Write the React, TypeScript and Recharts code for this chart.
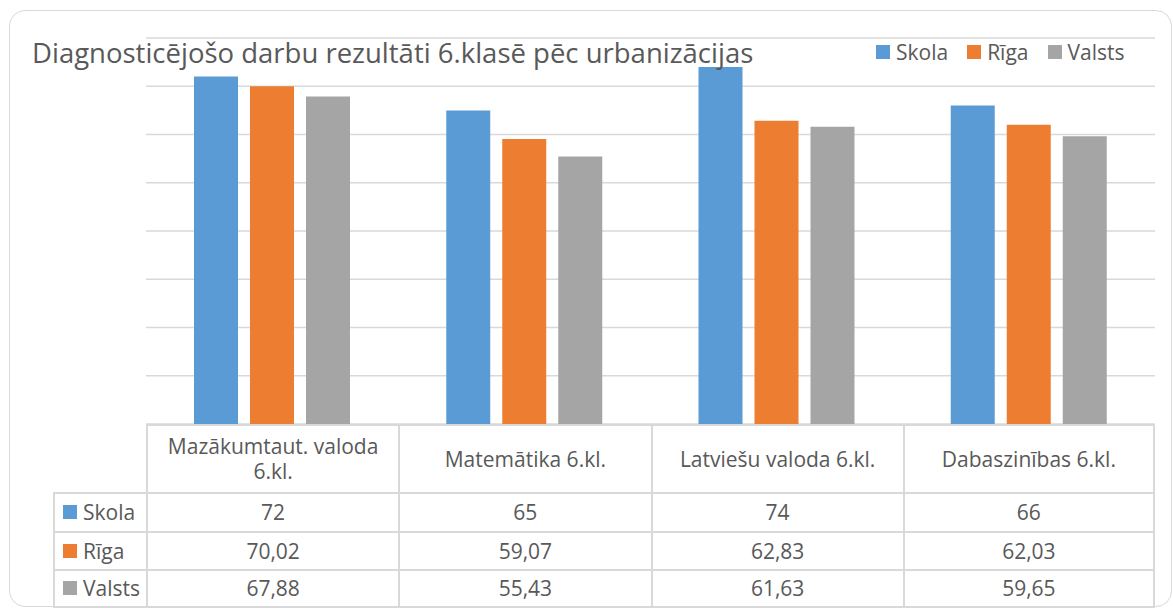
import React from 'react';
import { BarChart, Bar, XAxis, YAxis, CartesianGrid } from 'recharts';

const categories = ['Mazākumtaut. valoda 6.kl.', 'Matemātika 6.kl.', 'Latviešu valoda 6.kl.', 'Dabaszinības 6.kl.'];
const skola = [72, 65, 74, 66];
const riga = [70.02, 59.07, 62.83, 62.03];
const valsts = [67.88, 55.43, 61.63, 59.65];
const yTicks = [0, 10, 20, 30, 40, 50, 60, 70, 80];

const seriesList = [
  { key: 'skola', name: 'Skola', color: '#5B9BD5', values: skola },
  { key: 'riga', name: 'Rīga', color: '#ED7D31', values: riga },
  { key: 'valsts', name: 'Valsts', color: '#A5A5A5', values: valsts },
];

const data = categories.map((name, i) => ({
  name,
  skola: skola[i],
  riga: riga[i],
  valsts: valsts[i],
}));

const W = 1173;
const H = 610;
const plotLeft = 146;
const plotRight = 1155;
const plotTop = 38;
const plotBottom = 424;
const colW = (plotRight - plotLeft) / categories.length;
const labelColLeft = 53;
const headerH = 68;
const rowH = 38.5;

const font = '"Open Sans", sans-serif';
const textColor = '#595959';
const lineColor = '#d9d9d9';

const fmt = (v: number) => String(v).replace('.', ',').replace(/,(\d)$/, ',$10');

const NoTick = () => <g />;

const App: React.FC = () => {
  return (
    <div style={{ position: 'absolute', left: 0, top: 0, width: W, height: H, background: '#fff', fontFamily: font, color: textColor, overflow: 'hidden' }}>
      <div style={{ position: 'absolute', left: 9, top: 10, width: 1163, height: 597, border: `1px solid ${lineColor}`, borderRadius: 16, boxSizing: 'border-box' }} />
      <div style={{ position: 'absolute', left: 0, top: 0 }}>
        <BarChart
          width={W}
          height={H}
          data={data}
          margin={{ top: plotTop, right: W - plotRight, bottom: H - plotBottom, left: plotLeft }}
          barCategoryGap="19%"
          barGap={12}
        >
          <CartesianGrid vertical={false} stroke={lineColor} strokeWidth={1.5} />
          <XAxis dataKey="name" hide />
          <YAxis domain={[0, 80]} ticks={yTicks} width={0} tick={<NoTick />} axisLine={false} tickLine={false} />
          {seriesList.map((s) => (
            <Bar key={s.key} dataKey={s.key} name={s.name} fill={s.color} barSize={44} isAnimationActive={false} />
          ))}
        </BarChart>
      </div>

      <div style={{ position: 'absolute', left: 32, top: 34, fontSize: 27.5, whiteSpace: 'nowrap', lineHeight: '38px' }}>
        Diagnosticējošo darbu rezultāti 6.klasē pēc urbanizācijas
      </div>

      <div style={{ position: 'absolute', left: 876, top: 38, display: 'flex', fontSize: 21, lineHeight: '28px' }}>
        {seriesList.map((s) => (
          <div key={s.key} style={{ display: 'flex', alignItems: 'center', marginRight: 19 }}>
            <span style={{ display: 'inline-block', width: 14, height: 14, background: s.color, marginRight: 6 }} />
            <span>{s.name}</span>
          </div>
        ))}
      </div>

      {/* data table */}
      <div style={{ position: 'absolute', left: labelColLeft, top: plotBottom, fontSize: 21 }}>
        <div style={{ position: 'absolute', left: plotLeft - labelColLeft, top: 0, width: colW * categories.length, height: headerH, display: 'flex', borderTop: `2px solid ${lineColor}`, boxSizing: 'border-box' }}>
          {categories.map((c, i) => (
            <div key={c} style={{ width: colW, height: headerH - 2, borderLeft: `2px solid ${lineColor}`, borderRight: i === categories.length - 1 ? `2px solid ${lineColor}` : undefined, boxSizing: 'border-box', display: 'flex', alignItems: 'center', justifyContent: 'center', textAlign: 'center', padding: '0 10px', lineHeight: '25px' }}>
              {c}
            </div>
          ))}
        </div>
        {seriesList.map((s, r) => (
          <div key={s.key} style={{ position: 'absolute', left: 0, top: headerH + r * rowH, display: 'flex', height: rowH, borderTop: `2px solid ${lineColor}`, borderBottom: r === seriesList.length - 1 ? `2px solid ${lineColor}` : undefined, boxSizing: 'border-box' }}>
            <div style={{ width: plotLeft - labelColLeft, borderLeft: `2px solid ${lineColor}`, boxSizing: 'border-box', display: 'flex', alignItems: 'center', paddingLeft: 8 }}>
              <span style={{ display: 'inline-block', width: 14, height: 14, background: s.color, marginRight: 6 }} />
              <span>{s.name}</span>
            </div>
            {s.values.map((v, i) => (
              <div key={i} style={{ width: colW, borderLeft: `2px solid ${lineColor}`, borderRight: i === s.values.length - 1 ? `2px solid ${lineColor}` : undefined, boxSizing: 'border-box', display: 'flex', alignItems: 'center', justifyContent: 'center' }}>
                {fmt(v)}
              </div>
            ))}
          </div>
        ))}
      </div>
    </div>
  );
};

export default App;
